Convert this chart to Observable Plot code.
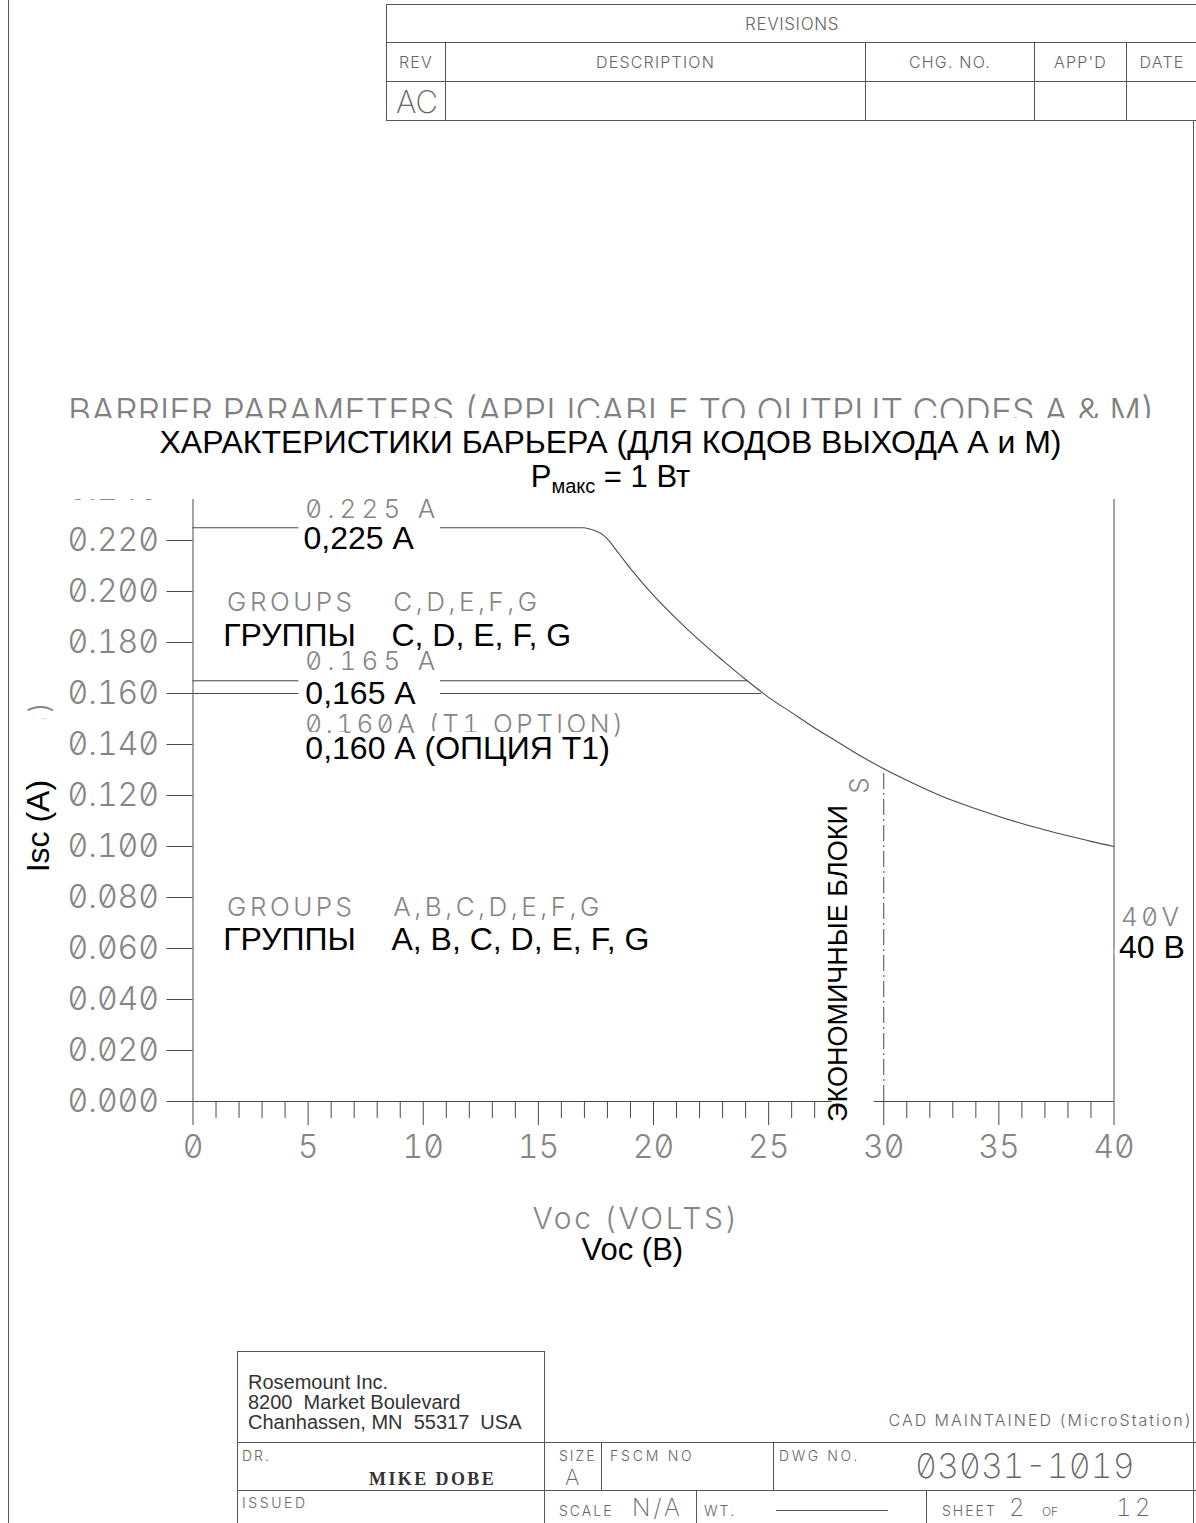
<!DOCTYPE html>
<html lang="ru"><head><meta charset="utf-8">
<script src="https://cdn.jsdelivr.net/npm/d3@7"></script>
<script src="https://cdn.jsdelivr.net/npm/@observablehq/plot@0.6"></script>
<style>
html,body{margin:0;padding:0;background:#fff}
#page{position:relative;width:1196px;height:1523px;overflow:hidden;background:#fff}
.t{position:absolute;white-space:nowrap;line-height:1}
.cad{font-family:Inter,"DejaVu Sans",sans-serif;font-weight:300;color:#666;font-variant-numeric:slashed-zero tabular-nums;font-feature-settings:"zero" 1,"tnum" 1}
.ru{font-family:"Liberation Sans",Arial,sans-serif;color:#000}
.hl{position:absolute;height:1px;background:#555}
.vl{position:absolute;width:1px;background:#555}
.big{font-size:24px;font-weight:200;line-height:0.8}
#chart{position:absolute;left:0;top:380px}
#chart svg text{font-feature-settings:"zero" 1,"tnum" 1}
#chart g[aria-description="cad-num"] text{letter-spacing:5.2px}
#chart g[aria-description="cad-word"] text{letter-spacing:3.5px}
#chart g[aria-description="cad-axis"] text{letter-spacing:2.6px}
#titlebox{position:absolute;left:33px;top:418px;width:1155px;height:81px;background:#fff;z-index:2}
#rev{position:absolute;left:386px;top:4px;border-collapse:collapse;table-layout:fixed;width:811px}
#rev td{border:1px solid #555;padding:0;text-align:center;vertical-align:middle;font-family:Inter,sans-serif;font-weight:300;font-size:16px;color:#666;letter-spacing:1.2px}
.sm{font-size:14px;letter-spacing:2px}
</style></head>
<body><div id="page">

<table id="rev">
<colgroup><col style="width:59px"><col style="width:420px"><col style="width:169px"><col style="width:92px"><col style="width:71px"></colgroup>
<tr style="height:38px"><td colspan="5" style="font-size:17px;letter-spacing:0.6px">REVISIONS</td></tr>
<tr style="height:39px"><td>REV</td><td>DESCRIPTION</td><td>CHG. NO.</td><td>APP'D</td><td>DATE</td></tr>
<tr style="height:39px"><td style="font-size:31px;font-weight:200;text-align:left;padding-left:9px;letter-spacing:0">AC</td><td></td><td></td><td></td><td></td></tr>
</table>

<div class="vl" style="left:8px;top:0;height:1523px"></div>
<div class="vl" style="left:1193px;top:120px;height:1403px"></div>

<div id="chart"></div>

<div id="entitle" class="t cad" style="left:68px;top:393px;font-size:36px;color:#808080;transform-origin:0 0">BARRIER PARAMETERS (APPLICABLE TO OUTPUT CODES A &amp; M)</div>
<div id="titlebox">
  <div class="t ru" style="left:0;width:1155px;text-align:center;top:8px;font-size:32px">ХАРАКТЕРИСТИКИ БАРЬЕРА (ДЛЯ КОДОВ ВЫХОДА А и М)</div>
  <div class="t ru" style="left:0;width:1155px;text-align:center;top:43px;font-size:31px">P<sub style="font-size:20px;vertical-align:-6px">макс</sub> = 1 Вт</div>
</div>

<!-- title block -->
<div class="hl" style="left:237px;top:1351px;width:308px"></div>
<div class="hl" style="left:237px;top:1442px;width:959px"></div>
<div class="hl" style="left:237px;top:1490px;width:959px"></div>
<div class="vl" style="left:237px;top:1351px;height:172px"></div>
<div class="vl" style="left:544px;top:1351px;height:172px"></div>
<div class="vl" style="left:601px;top:1442px;height:48px"></div>
<div class="vl" style="left:773px;top:1442px;height:48px"></div>
<div class="vl" style="left:696px;top:1490px;height:33px"></div>
<div class="vl" style="left:926px;top:1490px;height:33px"></div>
<div class="hl" style="left:776px;top:1510px;width:112px"></div>

<div class="t ru" style="left:248px;top:1372px;font-size:20px;color:#333">Rosemount Inc.</div>
<div class="t ru" style="left:248px;top:1392px;font-size:20px;color:#333">8200&nbsp; Market Boulevard</div>
<div class="t ru" style="left:248px;top:1412px;font-size:20px;color:#333">Chanhassen, MN&nbsp; 55317&nbsp; USA</div>
<div class="t cad" style="right:3px;top:1412px;font-size:16px;letter-spacing:2px">CAD MAINTAINED (MicroStation)</div>
<div class="t cad sm" style="left:559px;top:1449px">SIZE</div>
<div class="t cad" style="left:565px;top:1466px;font-size:22px;font-weight:200">A</div>
<div class="t cad sm" style="left:610px;top:1449px;letter-spacing:2.8px">FSCM NO</div>
<div class="t cad sm" style="left:779px;top:1449px;letter-spacing:2.6px">DWG NO.</div>
<div class="t cad" style="left:915px;top:1449px;font-size:34px;font-weight:200">03031-1019</div>
<div class="t cad sm" style="left:242px;top:1449px">DR.</div>
<div class="t" style="left:369px;top:1470px;font-family:'Liberation Serif',serif;font-weight:bold;font-size:18px;letter-spacing:2.4px;color:#333">MIKE DOBE</div>
<div class="t cad sm" style="left:242px;top:1496px;letter-spacing:2.6px">ISSUED</div>
<div class="t cad sm" style="left:559px;top:1504px">SCALE</div>
<div class="t cad big" style="left:632px;top:1498px;letter-spacing:3px">N/A</div>
<div class="t cad sm" style="left:704px;top:1504px">WT.</div>
<div class="t cad sm" style="left:942px;top:1504px">SHEET</div>
<div class="t cad big" style="left:1009px;top:1498px">2</div>
<div class="t cad" style="left:1042px;top:1506px;font-size:12px">OF</div>
<div class="t cad big" style="left:1116px;top:1498px;letter-spacing:3.5px">12</div>

</div>
<script>
// ---- data ----
const curveVoc = [17.0, 17.9, 18.5, 19, 20, 21, 22, 23, 24, 25, 26, 27, 28, 29, 30, 31, 32, 33, 34, 35, 36, 37, 38, 39, 40];
const curveIsc = [0.225, 0.2215, 0.2148, 0.2090, 0.1985, 0.1893, 0.1808, 0.1730, 0.1655, 0.1585, 0.1525, 0.1465, 0.1410, 0.1355, 0.1305, 0.1260, 0.1218, 0.1180, 0.1148, 0.1118, 0.1090, 0.1065, 0.1042, 0.1020, 0.100];
const limitIsc = [0.225, 0.165, 0.160];
const limitEndVoc = [17.0, 24.1, 24.7];
const labelGapVoc = [4.6, 10.75];
const economyVoc = 30;
const economyIsc = 0.1305;
const yTicks = [0, 0.02, 0.04, 0.06, 0.08, 0.10, 0.12, 0.14, 0.16, 0.18, 0.20, 0.22, 0.24];
const xMajor = [0, 5, 10, 15, 20, 25, 30, 35, 40];
const xMinor = [1, 2, 3, 4, 6, 7, 8, 9, 11, 12, 13, 14, 16, 17, 18, 19, 21, 22, 23, 24, 26, 27, 28, 29, 31, 32, 33, 34, 36, 37, 38, 39];

const cadNumLabels = [
  {t: "0.225 A", v: 4.88, i: 0.2322},
  {t: "0.165 A", v: 4.88, i: 0.1725}
];
const cadWordLabels = [
  {t: "GROUPS", v: 1.48, i: 0.1955},
  {t: "C,D,E,F,G", v: 8.7, i: 0.1955},
  {t: "0.160A (T1 OPTION)", v: 4.88, i: 0.1478},
  {t: "GROUPS", v: 1.48, i: 0.0759},
  {t: "A,B,C,D,E,F,G", v: 8.7, i: 0.0759},
  {t: "40V", v: 40.3, i: 0.072}
];
const ruLabels = [
  {t: "0,225 А", v: 4.8, i: 0.2208},
  {t: "ГРУППЫ", v: 1.31, i: 0.1827},
  {t: "C, D, E, F, G", v: 8.62, i: 0.1827},
  {t: "0,165 А", v: 4.88, i: 0.1600},
  {t: "0,160 А (ОПЦИЯ Т1)", v: 4.88, i: 0.1384},
  {t: "ГРУППЫ", v: 1.31, i: 0.0635},
  {t: "A, B, C, D, E, F, G", v: 8.62, i: 0.0635},
  {t: "40 В", v: 40.22, i: 0.0602}
];
const masks = [
  {x1: 27.76, x2: 29.58, y1: -0.0086, y2: 0.1195},
  {x1: -7.75, x2: -5.67, y1: 0.0357, y2: 0.150}
];

// ---- derived tables ----
const curve = curveVoc.map((v, k) => ({v, i: curveIsc[k]}));
const segments = limitIsc.flatMap((i, k) => [
  {i, x1: 0, x2: labelGapVoc[0]},
  {i, x1: labelGapVoc[1], x2: limitEndVoc[k]}
]);

const cadFont = "Inter, 'DejaVu Sans', sans-serif";
const ruFont = "'Liberation Sans', Arial, sans-serif";
const cadFill = "#858585";
const ink = "#4a4a4a";
const cadText = {textAnchor: "start", fontSize: 26, fontFamily: cadFont, fontWeight: 300, fill: cadFill};

const chart = Plot.plot({
  width: 1196, height: 910,
  marginLeft: 192.5, marginRight: 82.5, marginTop: 109, marginBottom: 189,
  x: {domain: [0, 40]},
  y: {domain: [0, 0.24]},
  style: {background: "transparent", overflow: "visible"},
  marks: [
    Plot.axisX({ticks: xMinor, tickSize: 17, tickFormat: () => "", stroke: ink, label: null}),
    Plot.axisX({ticks: xMajor, tickSize: 24, tickPadding: 10, fontSize: 32, fontFamily: cadFont, fontWeight: 300, fill: cadFill, stroke: ink, label: null}),
    Plot.axisY({ticks: yTicks, tickSize: 26, tickPadding: 8, tickFormat: d3.format(".3f"), fontSize: 32, fontFamily: cadFont, fontWeight: 300, fill: cadFill, stroke: ink, label: null}),
    Plot.ruleY([0], {stroke: ink}),
    Plot.ruleX([0, 40], {y1: 0, y2: yTicks[yTicks.length - 1], stroke: ink}),
    Plot.ruleY(segments, {y: "i", x1: "x1", x2: "x2", stroke: ink, strokeWidth: 1.1}),
    Plot.line(curve, {x: "v", y: "i", stroke: ink, strokeWidth: 1.1, curve: "monotone-x"}),
    Plot.ruleX([{v: economyVoc, i: economyIsc}], {x: "v", y1: 0, y2: "i", stroke: ink, strokeDasharray: "16,4,2,4"}),
    Plot.text(cadNumLabels, {x: "v", y: "i", text: "t", ...cadText, ariaDescription: "cad-num"}),
    Plot.text(cadWordLabels, {x: "v", y: "i", text: "t", ...cadText, ariaDescription: "cad-word"}),
    Plot.text([{t: "ECONOMY UNITS", v: 28.97, i: 0.1285}], {x: "v", y: "i", text: "t", ...cadText, rotate: -90, textAnchor: "end", ariaDescription: "cad-word"}),
    Plot.text([{t: "Isc (AMPS)", v: -6.66, i: 0.158}], {x: "v", y: "i", text: "t", ...cadText, fontSize: 28, rotate: -90, textAnchor: "end", ariaDescription: "cad-word"}),
    Plot.text([{t: "Voc (VOLTS)", v: 19.25, i: -0.0463}], {x: "v", y: "i", text: "t", ...cadText, fontSize: 30, textAnchor: "middle", ariaDescription: "cad-axis"}),
    Plot.rect(masks, {x1: "x1", x2: "x2", y1: "y1", y2: "y2", fill: "white"}),
    Plot.text(ruLabels, {x: "v", y: "i", text: "t", textAnchor: "start", fontSize: 32, fontFamily: ruFont, fill: "#000", stroke: "white", strokeWidth: 10, paintOrder: "stroke"}),
    Plot.text([{t: "ЭКОНОМИЧНЫЕ БЛОКИ", v: 28.05, i: 0.0541}], {x: "v", y: "i", text: "t", rotate: -90, fontSize: 27, fontFamily: ruFont, fill: "#000"}),
    Plot.text([{t: "Isc (А)", v: -6.68, i: 0.108}], {x: "v", y: "i", text: "t", rotate: -90, fontSize: 32, fontFamily: ruFont, fill: "#000"}),
    Plot.text([{t: "Voc (В)", v: 19.08, i: -0.0581}], {x: "v", y: "i", text: "t", fontSize: 31, fontFamily: ruFont, fill: "#000"})
  ]
});
document.getElementById("chart").append(chart);

// fit the CAD title to the width it spans on the drawing
const en = document.getElementById("entitle");
const w = en.getBoundingClientRect().width;
en.style.transform = `scaleX(${(1087 / w).toFixed(4)})`;
</script>
</body></html>
